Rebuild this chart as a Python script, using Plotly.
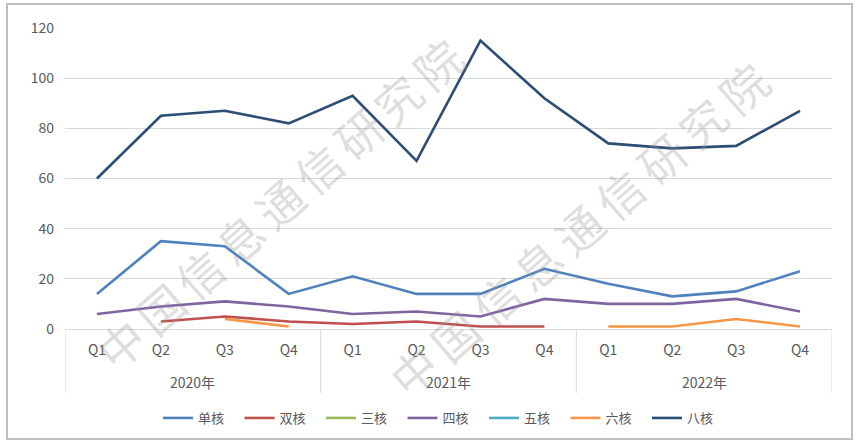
import plotly.graph_objects as go

years = ["2020年"] * 4 + ["2021年"] * 4 + ["2022年"] * 4
quarters = ["Q1", "Q2", "Q3", "Q4"] * 3
year_labels = ["2020年", "2021年", "2022年"]

single = [14, 35, 33, 14, 21, 14, 14, 24, 18, 13, 15, 23]
dual = [None, 3, 5, 3, 2, 3, 1, 1, None, None, None, None]
triple = [None] * 12
quad = [6, 9, 11, 9, 6, 7, 5, 12, 10, 10, 12, 7]
penta = [None] * 12
hexa = [None, None, 4, 1, None, None, None, None, 1, 1, 4, 1]
octa = [60, 85, 87, 82, 93, 67, 115, 92, 74, 72, 73, 87]

series = [
    ("单核", single, "#4F81BD"),
    ("双核", dual, "#C0504D"),
    ("三核", triple, "#9BBB59"),
    ("四核", quad, "#8064A2"),
    ("五核", penta, "#4BACC6"),
    ("六核", hexa, "#F79646"),
    ("八核", octa, "#2C4D75"),
]

cats = [y + q for y, q in zip(years, quarters)]

FONT = "Noto Sans CJK SC, Microsoft YaHei, sans-serif"
GRID = "#d9d9d9"
TXT = "#595959"

# plot area geometry (px) used for paper-coordinate conversions
L, R, T, B = 65, 27, 28, 116
W, H = 859, 445
PW, PH = W - L - R, H - T - B


def px(xp):
    return (xp - L) / PW


def py(yp):
    return (H - B - yp) / PH


fig = go.Figure()
for name, vals, color in series:
    fig.add_trace(go.Scatter(
        x=cats, y=vals, name=name, mode="lines",
        line=dict(color=color, width=2.6), connectgaps=False,
    ))

fig.update_layout(
    width=W, height=H,
    margin=dict(l=L, r=R, t=T, b=B, autoexpand=False),
    paper_bgcolor="white", plot_bgcolor="white",
    font=dict(family=FONT, size=13, color=TXT),
    showlegend=True,
    legend=dict(orientation="h", x=px(158), xanchor="left", y=py(418), yanchor="middle",
                font=dict(size=13, color=TXT), itemwidth=30,
                entrywidth=36.5, entrywidthmode="pixels", bgcolor="rgba(0,0,0,0)"),
    xaxis=dict(type="category", categoryorder="array", categoryarray=cats,
               range=[-0.5, len(cats) - 0.5],
               tickvals=cats, ticktext=quarters,
               showline=True, linecolor=GRID, linewidth=1,
               ticks="", tickfont=dict(size=14, color=TXT), showgrid=False,
               ticklabelstandoff=8, automargin=False),
    yaxis=dict(range=[0, 120], dtick=20, showgrid=True, gridcolor=GRID, gridwidth=1,
               zeroline=False, showline=False, ticks="",
               tickfont=dict(size=14, color=TXT), ticklabelstandoff=10, automargin=False),
)

# year group labels and dividers
for i, yl in enumerate(year_labels):
    fig.add_annotation(text=yl, x=i * 4 + 1.5, y=py(382), xref="x", yref="paper",
                       yanchor="middle", showarrow=False, font=dict(size=14, color=TXT))
for xv in [-0.5, 3.5, 7.5, 11.5]:
    fig.add_shape(type="line", xref="x", yref="paper", x0=xv, x1=xv, y0=0, y1=py(393),
                  line=dict(color=GRID, width=1))

# watermark
wm = "中国信息通信研究院"
for (sx, sy), (ex, ey) in [((120, 343), (437, 63)), ((413, 370), (743, 87))]:
    n = len(wm)
    for k, ch in enumerate(wm):
        cx = sx + (ex - sx) * k / (n - 1)
        cy = sy + (ey - sy) * k / (n - 1)
        fig.add_annotation(text=ch, x=px(cx), y=py(cy), xref="paper", yref="paper",
                           xanchor="center", yanchor="middle",
                           showarrow=False, textangle=-41,
                           font=dict(size=46, color="rgba(150,150,150,0.33)", family=FONT))

# chart border
fig.add_shape(type="rect", xref="paper", yref="paper",
              x0=px(7), x1=px(852), y0=py(439), y1=py(4),
              line=dict(color="#bfbfbf", width=2), fillcolor="rgba(0,0,0,0)", layer="below")

fig.write_html("out.html")
